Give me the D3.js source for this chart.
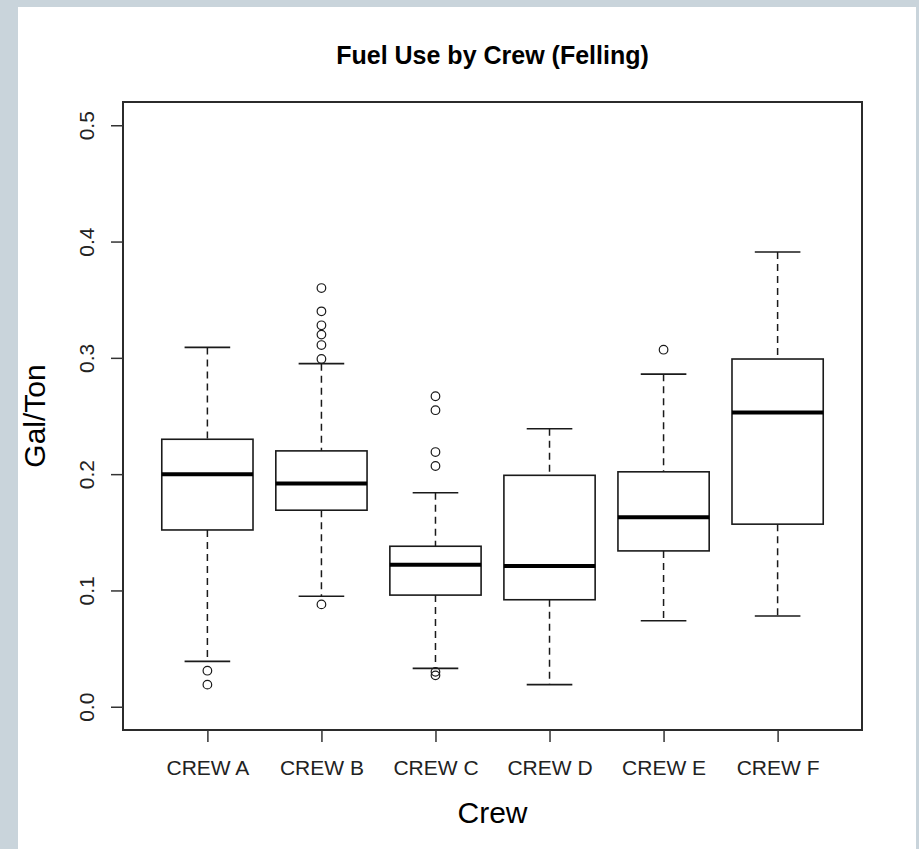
<!DOCTYPE html>
<html>
<head>
<meta charset="utf-8">
<script src="https://cdn.jsdelivr.net/npm/d3@7"></script>
<style>
  html, body { margin: 0; padding: 0; background: #c9d4db; }
  svg { display: block; }
  text { font-family: "Liberation Sans", Arial, sans-serif; }
</style>
</head>
<body>
<svg id="chart" width="919" height="849"></svg>
<script>
// Fuel use (gallons per ton) for felling, summarised per crew
const crews      = ["CREW A", "CREW B", "CREW C", "CREW D", "CREW E", "CREW F"];
const whiskerLo  = [0.039, 0.095, 0.033, 0.019, 0.074, 0.078];
const q1         = [0.152, 0.169, 0.096, 0.092, 0.134, 0.157];
const medians    = [0.200, 0.192, 0.122, 0.121, 0.163, 0.253];
const q3         = [0.230, 0.220, 0.138, 0.199, 0.202, 0.299];
const whiskerHi  = [0.309, 0.295, 0.184, 0.239, 0.286, 0.391];
const outliers   = [
  [0.031, 0.019],
  [0.360, 0.340, 0.328, 0.320, 0.311, 0.299, 0.088],
  [0.267, 0.255, 0.219, 0.207, 0.030, 0.027],
  [],
  [0.307],
  []
];
const yTicks = [0.0, 0.1, 0.2, 0.3, 0.4, 0.5];

const svg = d3.select("#chart");
const W = 919, H = 849;

// white page panel
svg.append("rect").attr("x", 18).attr("y", 7).attr("width", 898).attr("height", H - 7)
   .attr("fill", "#ffffff");

const plot = { left: 123, right: 862, top: 102, bottom: 730 };

const x = d3.scaleLinear().domain([0.26, 6.74]).range([plot.left, plot.right]);
const y = d3.scaleLinear().domain([-0.02, 0.52]).range([plot.bottom, plot.top]);

const ink = "#1a1a1a";
const boxHalf = x(1.4) - x(1);     // box half-width (0.4 units)
const capHalf = boxHalf / 2;        // whisker cap half-width

const rows = crews.map((c, i) => ({
  name: c, pos: i + 1,
  lo: whiskerLo[i], q1: q1[i], med: medians[i], q3: q3[i], hi: whiskerHi[i],
  out: outliers[i]
}));

const g = svg.append("g");

const box = g.selectAll("g.box").data(rows).join("g").attr("class", "box");

// dashed whiskers
box.append("line")
  .attr("x1", d => x(d.pos)).attr("x2", d => x(d.pos))
  .attr("y1", d => y(d.hi)).attr("y2", d => y(d.q3))
  .attr("stroke", ink).attr("stroke-width", 1.5).attr("stroke-dasharray", "7,5");
box.append("line")
  .attr("x1", d => x(d.pos)).attr("x2", d => x(d.pos))
  .attr("y1", d => y(d.q1)).attr("y2", d => y(d.lo))
  .attr("stroke", ink).attr("stroke-width", 1.5).attr("stroke-dasharray", "7,5");

// whisker caps
box.append("line")
  .attr("x1", d => x(d.pos) - capHalf).attr("x2", d => x(d.pos) + capHalf)
  .attr("y1", d => y(d.hi)).attr("y2", d => y(d.hi))
  .attr("stroke", ink).attr("stroke-width", 1.6);
box.append("line")
  .attr("x1", d => x(d.pos) - capHalf).attr("x2", d => x(d.pos) + capHalf)
  .attr("y1", d => y(d.lo)).attr("y2", d => y(d.lo))
  .attr("stroke", ink).attr("stroke-width", 1.6);

// interquartile boxes
box.append("rect")
  .attr("x", d => x(d.pos) - boxHalf).attr("width", 2 * boxHalf)
  .attr("y", d => y(d.q3)).attr("height", d => y(d.q1) - y(d.q3))
  .attr("fill", "#ffffff").attr("stroke", ink).attr("stroke-width", 1.6);

// medians
box.append("line")
  .attr("x1", d => x(d.pos) - boxHalf).attr("x2", d => x(d.pos) + boxHalf)
  .attr("y1", d => y(d.med)).attr("y2", d => y(d.med))
  .attr("stroke", "#000").attr("stroke-width", 4);

// outliers
box.selectAll("circle").data(d => d.out.map(v => ({ pos: d.pos, v })))
  .join("circle")
  .attr("cx", d => x(d.pos)).attr("cy", d => y(d.v)).attr("r", 4.3)
  .attr("fill", "none").attr("stroke", ink).attr("stroke-width", 1.2);

// plot frame
svg.append("rect")
  .attr("x", plot.left).attr("y", plot.top)
  .attr("width", plot.right - plot.left).attr("height", plot.bottom - plot.top)
  .attr("fill", "none").attr("stroke", "#2b2b2b").attr("stroke-width", 2);

// y axis
const yAxis = svg.append("g").attr("transform", `translate(${plot.left},0)`)
  .call(d3.axisLeft(y).tickValues(yTicks).tickSize(12).tickFormat(d3.format(".1f")));
yAxis.select(".domain").remove();
yAxis.selectAll(".tick line").attr("stroke", "#333").attr("stroke-width", 1.5);
yAxis.selectAll(".tick text")
  .attr("x", 0).attr("dy", null)
  .attr("transform", "translate(-37,0) rotate(-90)")
  .attr("text-anchor", "middle").attr("dominant-baseline", "central")
  .attr("font-size", 21).attr("fill", "#222")
  .style("font-family", "'Liberation Sans', Arial, sans-serif");

// x axis
const xAxis = svg.append("g").attr("transform", `translate(0,${plot.bottom})`)
  .call(d3.axisBottom(x).tickValues(rows.map(d => d.pos)).tickSize(12)
        .tickFormat((d, i) => crews[i]));
xAxis.select(".domain").remove();
xAxis.selectAll(".tick line").attr("stroke", "#333").attr("stroke-width", 1.5);
xAxis.selectAll(".tick text")
  .attr("y", 37).attr("dy", null).attr("dominant-baseline", "central")
  .attr("font-size", 21).attr("fill", "#222")
  .style("font-family", "'Liberation Sans', Arial, sans-serif");

// titles
svg.append("text").attr("x", (plot.left + plot.right) / 2).attr("y", 55)
  .attr("text-anchor", "middle").attr("dominant-baseline", "central")
  .attr("font-size", 25).attr("font-weight", "bold").attr("fill", "#000")
  .text("Fuel Use by Crew (Felling)");

svg.append("text").attr("x", (plot.left + plot.right) / 2).attr("y", 812)
  .attr("text-anchor", "middle").attr("dominant-baseline", "central")
  .attr("font-size", 30).attr("fill", "#000")
  .text("Crew");

svg.append("text")
  .attr("transform", `translate(34,${(plot.top + plot.bottom) / 2}) rotate(-90)`)
  .attr("text-anchor", "middle").attr("dominant-baseline", "central")
  .attr("font-size", 30).attr("fill", "#000")
  .text("Gal/Ton");
</script>
</body>
</html>
